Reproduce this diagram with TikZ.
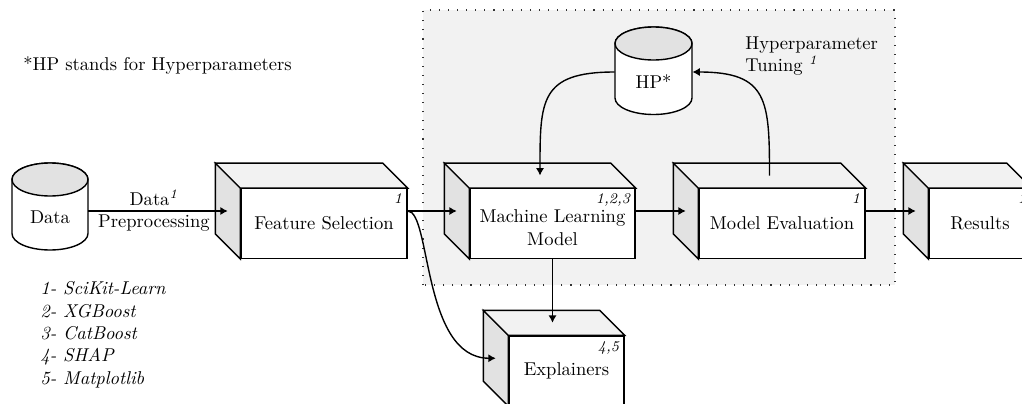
\documentclass[tikz,border=0pt]{standalone}
\usetikzlibrary{arrows.meta}

\definecolor{sidegray}{gray}{0.885}
\definecolor{topgray}{gray}{0.95}
\definecolor{regiongray}{gray}{0.95}

\def\pxu{0.539pt}

\tikzset{
  x=\pxu, y=\pxu,
  front/.style={draw, fill=white, line width=0.75pt, minimum height={69.5*\pxu},
                inner sep=0pt, align=center},
  face/.style={draw, line width=0.75pt, line join=miter},
  corner/.style={anchor=north east, font=\footnotesize\itshape,
                 inner xsep=2.8pt, inner ysep=3pt},
  conn/.style={line width=0.75pt, -{Latex[length=4pt,width=4.4pt]}},
  plain/.style={line width=0.75pt},
  anchorbox/.style={inner sep=0pt, minimum height=0pt},
  region/.style={fill=regiongray, draw=black!80, line width=0.6pt,
                 dash pattern=on 0.6pt off 4.3pt},
}

% side and top faces of a 3D box whose front face is the node #1
\newcommand\boxfaces[1]{%
  \draw[face, fill=sidegray] (#1.north west) -- ++(-25,25)
     -- ([shift={(-25,25)}]#1.south west) -- (#1.south west) -- cycle;
  \draw[face, fill=topgray] (#1.north west) -- ++(-25,25)
     -- ([shift={(-25,25)}]#1.north east) -- (#1.north east) -- cycle;
  \coordinate (#1-side) at ([shift={(-12.5,12.5)}]#1.west);
  \coordinate (#1-top) at ([shift={(-12.5,12.5)}]#1.north);
}

\begin{document}
\begin{tikzpicture}
\useasboundingbox (0,0) rectangle (1022,403);

% tuning area
\path[region] (423,118) rectangle (895,393);

% data store
\filldraw[plain, fill=white] (12,223.5) -- (12,169.5)
  arc[start angle=180, end angle=360, x radius={38*\pxu}, y radius={16.5*\pxu}]
  -- (88,223.5)
  arc[start angle=0, end angle=180, x radius={38*\pxu}, y radius={16.5*\pxu}] -- cycle;
\filldraw[plain, fill=sidegray] (50,223.5) ellipse [x radius={38*\pxu}, y radius={16.5*\pxu}];
\node[anchorbox, minimum width={76*\pxu}] (data) at (50,193) {};
\node (datatext) at (50,186) {Data};

% hyperparameter store
\filldraw[plain, fill=white] (615,359.5) -- (615,305)
  arc[start angle=180, end angle=360, x radius={38.5*\pxu}, y radius={16.5*\pxu}]
  -- (692,359.5)
  arc[start angle=0, end angle=180, x radius={38.5*\pxu}, y radius={16.5*\pxu}] -- cycle;
\filldraw[plain, fill=sidegray] (653.5,359.5) ellipse [x radius={38.5*\pxu}, y radius={16.5*\pxu}];
\node[anchorbox, minimum width={77*\pxu}] (hp) at (653.5,331) {};
\node (hptext) at (653.5,321) {HP*};

% boxes
\node[front, minimum width={166*\pxu}] (fs) at (324,179.5) {Feature Selection};
\boxfaces{fs}
\node[corner] (fsl) at (fs.north east) {1};

\node[front, minimum width={165*\pxu}] (ml) at (552.5,179.5)
  {\rule{0pt}{11.3pt}Machine Learning\\Model};
\boxfaces{ml}
\node[corner] (mll) at (ml.north east) {1,2,3};

\node[front, minimum width={166*\pxu}] (me) at (782,179.5) {Model Evaluation};
\boxfaces{me}
\node[corner] (mel) at (me.north east) {1};

\node[front, minimum width={102*\pxu}] (res) at (980,179.5) {Results};
\boxfaces{res}
\node[corner] (resl) at (res.north east) {1};

\node[front, minimum width={115*\pxu}] (ex) at (566.5,32.25) {Explainers};
\boxfaces{ex}
\node[corner] (exl) at (ex.north east) {4,5};

% connectors
\draw[conn] (data.east |- fs-side) -- node[pos=0.47, align=center] (prep)
  {Data\textsuperscript{\itshape 1}\\Preprocessing} (fs-side);
\draw[conn] (fs.east |- fs-side) -- (ml-side);
\draw[conn] (ml.east |- ml-side) -- (me-side);
\draw[conn] (me.east |- me-side) -- (res-side);
\draw[conn] (ml.south) -- (ml.south |- ex-top);
\draw[conn] (fs.east |- fs-side) to[out=0, in=180, out looseness=0.35, in looseness=1.1] (ex-side);
\draw[conn] (hp.west) to[out=180, in=90, looseness=1.5] (ml-top);
\draw[conn] (me-top) to[out=90, in=0, looseness=1.5] (hp.east);

% texts
\node[anchor=north west, align=left, inner sep=0pt] (tuning) at (745,367)
  {Hyperparameter\\Tuning \textsuperscript{\itshape 1}};
\node[anchor=west, inner sep=0pt] (note) at (23,338) {*HP stands for Hyperparameters};
\node[anchor=north west, align=left, inner sep=0pt, font=\itshape] (libs) at (40,121.5)
  {1- SciKit-Learn\\2- XGBoost\\3- CatBoost\\4- SHAP\\5- Matplotlib};
\end{tikzpicture}
\end{document}
